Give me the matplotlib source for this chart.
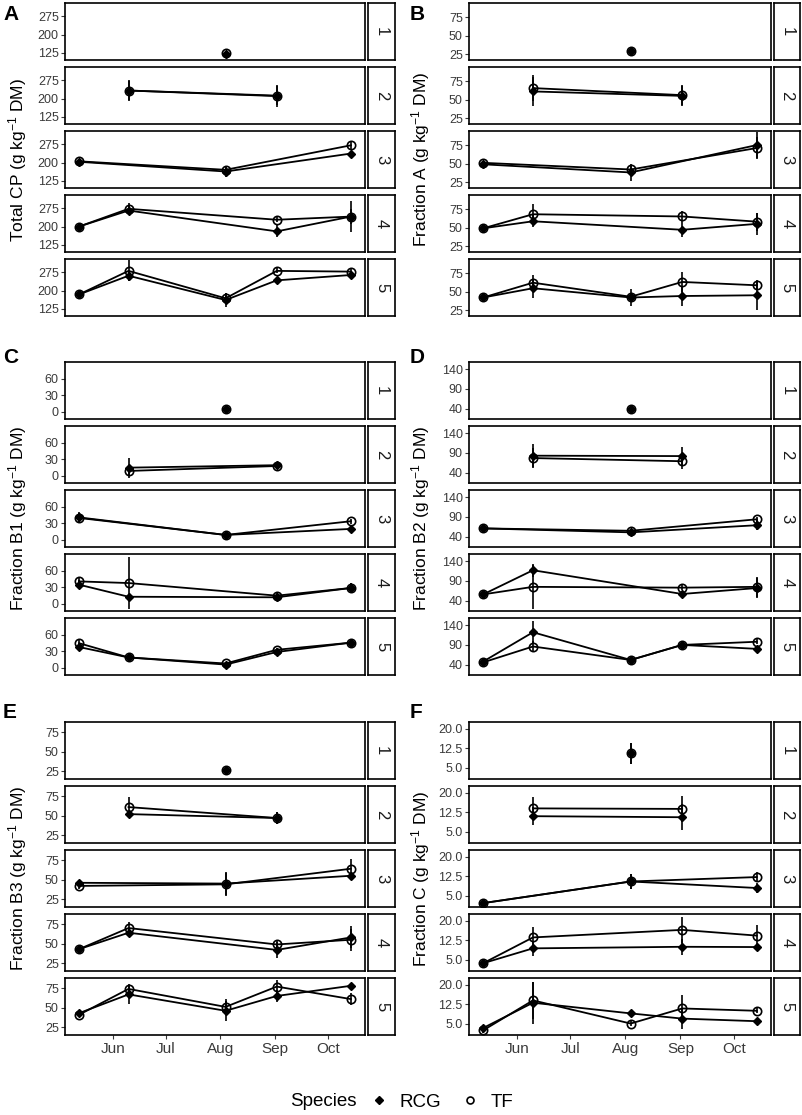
import matplotlib
matplotlib.use("Agg")
import matplotlib.pyplot as plt
import matplotlib.dates as mdates
from matplotlib.lines import Line2D
from datetime import date

plt.rcParams['font.family'] = ['Liberation Sans', 'DejaVu Sans']
plt.rcParams['mathtext.fontset'] = 'custom'
plt.rcParams['mathtext.rm'] = 'Liberation Sans'
plt.rcParams['mathtext.it'] = 'Liberation Sans:italic'
plt.rcParams['mathtext.bf'] = 'Liberation Sans:bold'

# fechas de corte y facetas (numero de cortes)
harvest_dates = [date(2019, 5, 13), date(2019, 6, 10), date(2019, 8, 4), date(2019, 9, 2), date(2019, 10, 14)]
cuts = ["1", "2", "3", "4", "5"]
row_dates = [[2], [1, 3], [0, 2, 4], [0, 1, 3, 4], [0, 1, 2, 3, 4]]

# A - Total CP
cp_rcg = [[120], [233, 212], [203, 163, 237], [200, 266, 180, 241], [184, 261, 161, 242, 264]]
cp_tf = [[122], [233, 210], [205, 170, 271], [200, 273, 228, 241], [184, 281, 168, 281, 278]]
cp_rcg_se = [[5], [40, 40], [5, 22, 8], [5, 20, 25, 30], [5, 20, 30, 8, 8]]
cp_tf_se = [[5], [42, 45], [5, 10, 15], [5, 25, 10, 65], [5, 43, 20, 10, 10]]

# B - Fraction A
fa_rcg = [[29], [61, 55], [49, 38, 75], [49, 58.5, 47, 55], [42, 54.5, 42, 44, 45]]
fa_tf = [[29], [65.5, 56], [51, 42, 71], [49, 68, 65, 58], [42, 62, 43, 63, 58.5]]
fa_rcg_se = [[3], [20, 14], [3, 11, 18], [4, 8, 10, 15], [3, 13, 12, 14, 20]]
fa_tf_se = [[3], [18, 14], [3, 5, 15], [3, 14, 8, 12], [3, 10, 5, 14, 5]]

# C - Fraction B1
b1_rcg = [[6], [15, 19.5], [41, 9, 20], [35, 13, 12, 29], [38, 19, 6, 29, 46]]
b1_tf = [[6], [9, 18], [40, 9, 34], [41, 38, 15, 29], [45, 19, 8, 33, 46]]
b1_rcg_se = [[3], [18, 6], [8, 3, 3], [8, 3, 3, 10], [6, 4, 3, 4, 3]]
b1_tf_se = [[3], [10, 5], [10, 3, 5], [8, 48, 4, 10], [8, 4, 3, 4, 3]]

# D - Fraction B2
b2_rcg = [[40], [83, 82], [61, 51, 69], [56, 117, 57, 72], [48, 122, 52, 90, 80]]
b2_tf = [[40], [77, 69], [61, 55, 84], [56, 75, 73, 75], [46, 86, 52, 90, 98]]
b2_rcg_se = [[5], [29, 24], [4, 6, 12], [4, 17, 8, 25], [4, 29, 5, 8, 8]]
b2_tf_se = [[5], [25, 20], [4, 4, 6], [4, 55, 6, 25], [4, 15, 5, 8, 6]]

# E - Fraction B3
b3_rcg = [[27], [52, 47], [46, 45, 55], [43, 64, 42, 58], [43, 67, 46, 65, 78]]
b3_tf = [[26], [61, 47], [42, 44, 64], [43, 70, 49, 55], [41, 74, 51, 77, 61]]
b3_rcg_se = [[3], [4, 8], [4, 15, 4], [3, 6, 10, 14], [3, 12, 13, 8, 3]]
b3_tf_se = [[3], [13, 8], [4, 15, 12], [3, 8, 5, 14], [3, 6, 10, 8, 8]]

# F - Fraction C
fc_rcg = [[10.5], [11, 10.6], [2.2, 10.5, 8], [3.7, 9.4, 10, 9.9], [3.4, 13.1, 9, 7, 6]]
fc_tf = [[10.5], [14, 13.8], [2.2, 10.5, 12.2], [3.7, 13.6, 16.5, 14.3], [2.5, 14, 5.1, 10.9, 10]]
fc_rcg_se = [[4], [3.5, 5], [1, 3, 2], [1, 3, 3, 1], [1, 8, 1, 4, 1]]
fc_tf_se = [[4], [4.5, 5], [1, 3, 2], [1, 4, 5, 4], [1, 7, 1, 5, 1]]

panels = [
    ("A", "Total CP (g kg$^{-1}$ DM)", cp_rcg, cp_tf, cp_rcg_se, cp_tf_se, [125, 200, 275], ["125", "200", "275"], (95, 330)),
    ("B", "Fraction A (g kg$^{-1}$ DM)", fa_rcg, fa_tf, fa_rcg_se, fa_tf_se, [25, 50, 75], ["25", "50", "75"], (17, 94)),
    ("C", "Fraction B1 (g kg$^{-1}$ DM)", b1_rcg, b1_tf, b1_rcg_se, b1_tf_se, [0, 30, 60], ["0", "30", "60"], (-13, 91)),
    ("D", "Fraction B2 (g kg$^{-1}$ DM)", b2_rcg, b2_tf, b2_rcg_se, b2_tf_se, [40, 90, 140], ["40", "90", "140"], (14, 158)),
    ("E", "Fraction B3 (g kg$^{-1}$ DM)", b3_rcg, b3_tf, b3_rcg_se, b3_tf_se, [25, 50, 75], ["25", "50", "75"], (15, 88)),
    ("F", "Fraction C (g kg$^{-1}$ DM)", fc_rcg, fc_tf, fc_rcg_se, fc_tf_se, [5, 12.5, 20], ["5.0", "12.5", "20.0"], (0.7, 22.6)),
]

W, H = 803, 1115
fig = plt.figure(figsize=(W / 100, H / 100), dpi=100)


def px_axes(x0, y0, x1, y1):
    return fig.add_axes([x0 / W, 1 - y1 / H, (x1 - x0) / W, (y1 - y0) / H])


# columnas: x0, x1 del panel, x0, x1 de la tira, x letra, x etiqueta y
cols = [(65, 365, 368, 395, 3, 18), (469, 771, 774, 800, 410, 421)]
group_top = [3, 362, 722]
letter_top = [5, 348, 703]
facet_h = 57
pitch = 64
grey = '#3a3a3a'
rcg_style = dict(marker='D', ms=3.6, mfc='black', mec='black', color='black', lw=1.3)
tf_style = dict(marker='o', ms=6, mfc='none', mec='black', mew=1.2, color='black', lw=1.3)

for p, (letter, ylab, rcg, tf, rcg_se, tf_se, ticks, ticklabels, ylim) in enumerate(panels):
    g, c = p // 2, p % 2
    x0, x1, sx0, sx1, lx, ylx = cols[c]
    for k in range(5):
        y0 = group_top[g] + k * pitch
        y1 = y0 + facet_h
        ax = px_axes(x0, y0, x1, y1)
        xs = [harvest_dates[i] for i in row_dates[k]]
        ax.errorbar(xs, rcg[k], yerr=rcg_se[k], fmt='none', ecolor='black', elinewidth=1.2)
        ax.errorbar(xs, tf[k], yerr=tf_se[k], fmt='none', ecolor='black', elinewidth=1.2)
        ax.plot(xs, rcg[k], **rcg_style)
        ax.plot(xs, tf[k], **tf_style)
        ax.set_xlim(date(2019, 5, 5), date(2019, 10, 22))
        ax.set_ylim(ylim)
        ax.set_yticks(ticks)
        ax.set_yticklabels(ticklabels)
        ax.tick_params(axis='y', length=3, width=0.8, color=grey, labelsize=9, labelcolor=grey, pad=1.5)
        ax.xaxis.set_major_locator(mdates.MonthLocator(bymonth=[6, 7, 8, 9, 10]))
        ax.xaxis.set_major_formatter(mdates.DateFormatter('%b'))
        if g == 2 and k == 4:
            ax.tick_params(axis='x', length=3, width=0.8, color=grey, labelsize=11, labelcolor=grey, pad=2)
        else:
            ax.tick_params(axis='x', length=0, labelbottom=False)
        for s in ax.spines.values():
            s.set_linewidth(1.2)
        # tira de la faceta
        sa = px_axes(sx0, y0, sx1, y1)
        sa.set_xticks([])
        sa.set_yticks([])
        for s in sa.spines.values():
            s.set_linewidth(1.2)
        sa.text(0.5, 0.5, cuts[k], rotation=-90, ha='center', va='center', fontsize=12, color='#1a1a1a',
                transform=sa.transAxes)
    gy = group_top[g] + (4 * pitch + facet_h) / 2
    fig.text(ylx / W, 1 - gy / H, ylab, rotation=90, ha='center', va='center', fontsize=12.5)
    fig.text(lx / W, 1 - letter_top[g] / H, letter, fontsize=15, fontweight='bold', va='top', ha='left')

# leyenda
fig.text(290 / W, 1 - 1102 / H, "Species", fontsize=13.5, va='center', ha='left')
handles = [Line2D([], [], ls='none', marker='D', ms=3.6, mfc='black', mec='black'),
           Line2D([], [], ls='none', marker='o', ms=5, mfc='none', mec='black', mew=1.2)]
fig.legend(handles, ["RCG", "TF"], loc='center left', bbox_to_anchor=(370 / W, 1 - 1102 / H), ncol=2,
           frameon=False, fontsize=13.5, handlelength=1.0, handletextpad=0.6, columnspacing=1.0,
           borderaxespad=0, borderpad=0)

fig.savefig('out.png', dpi=100)
